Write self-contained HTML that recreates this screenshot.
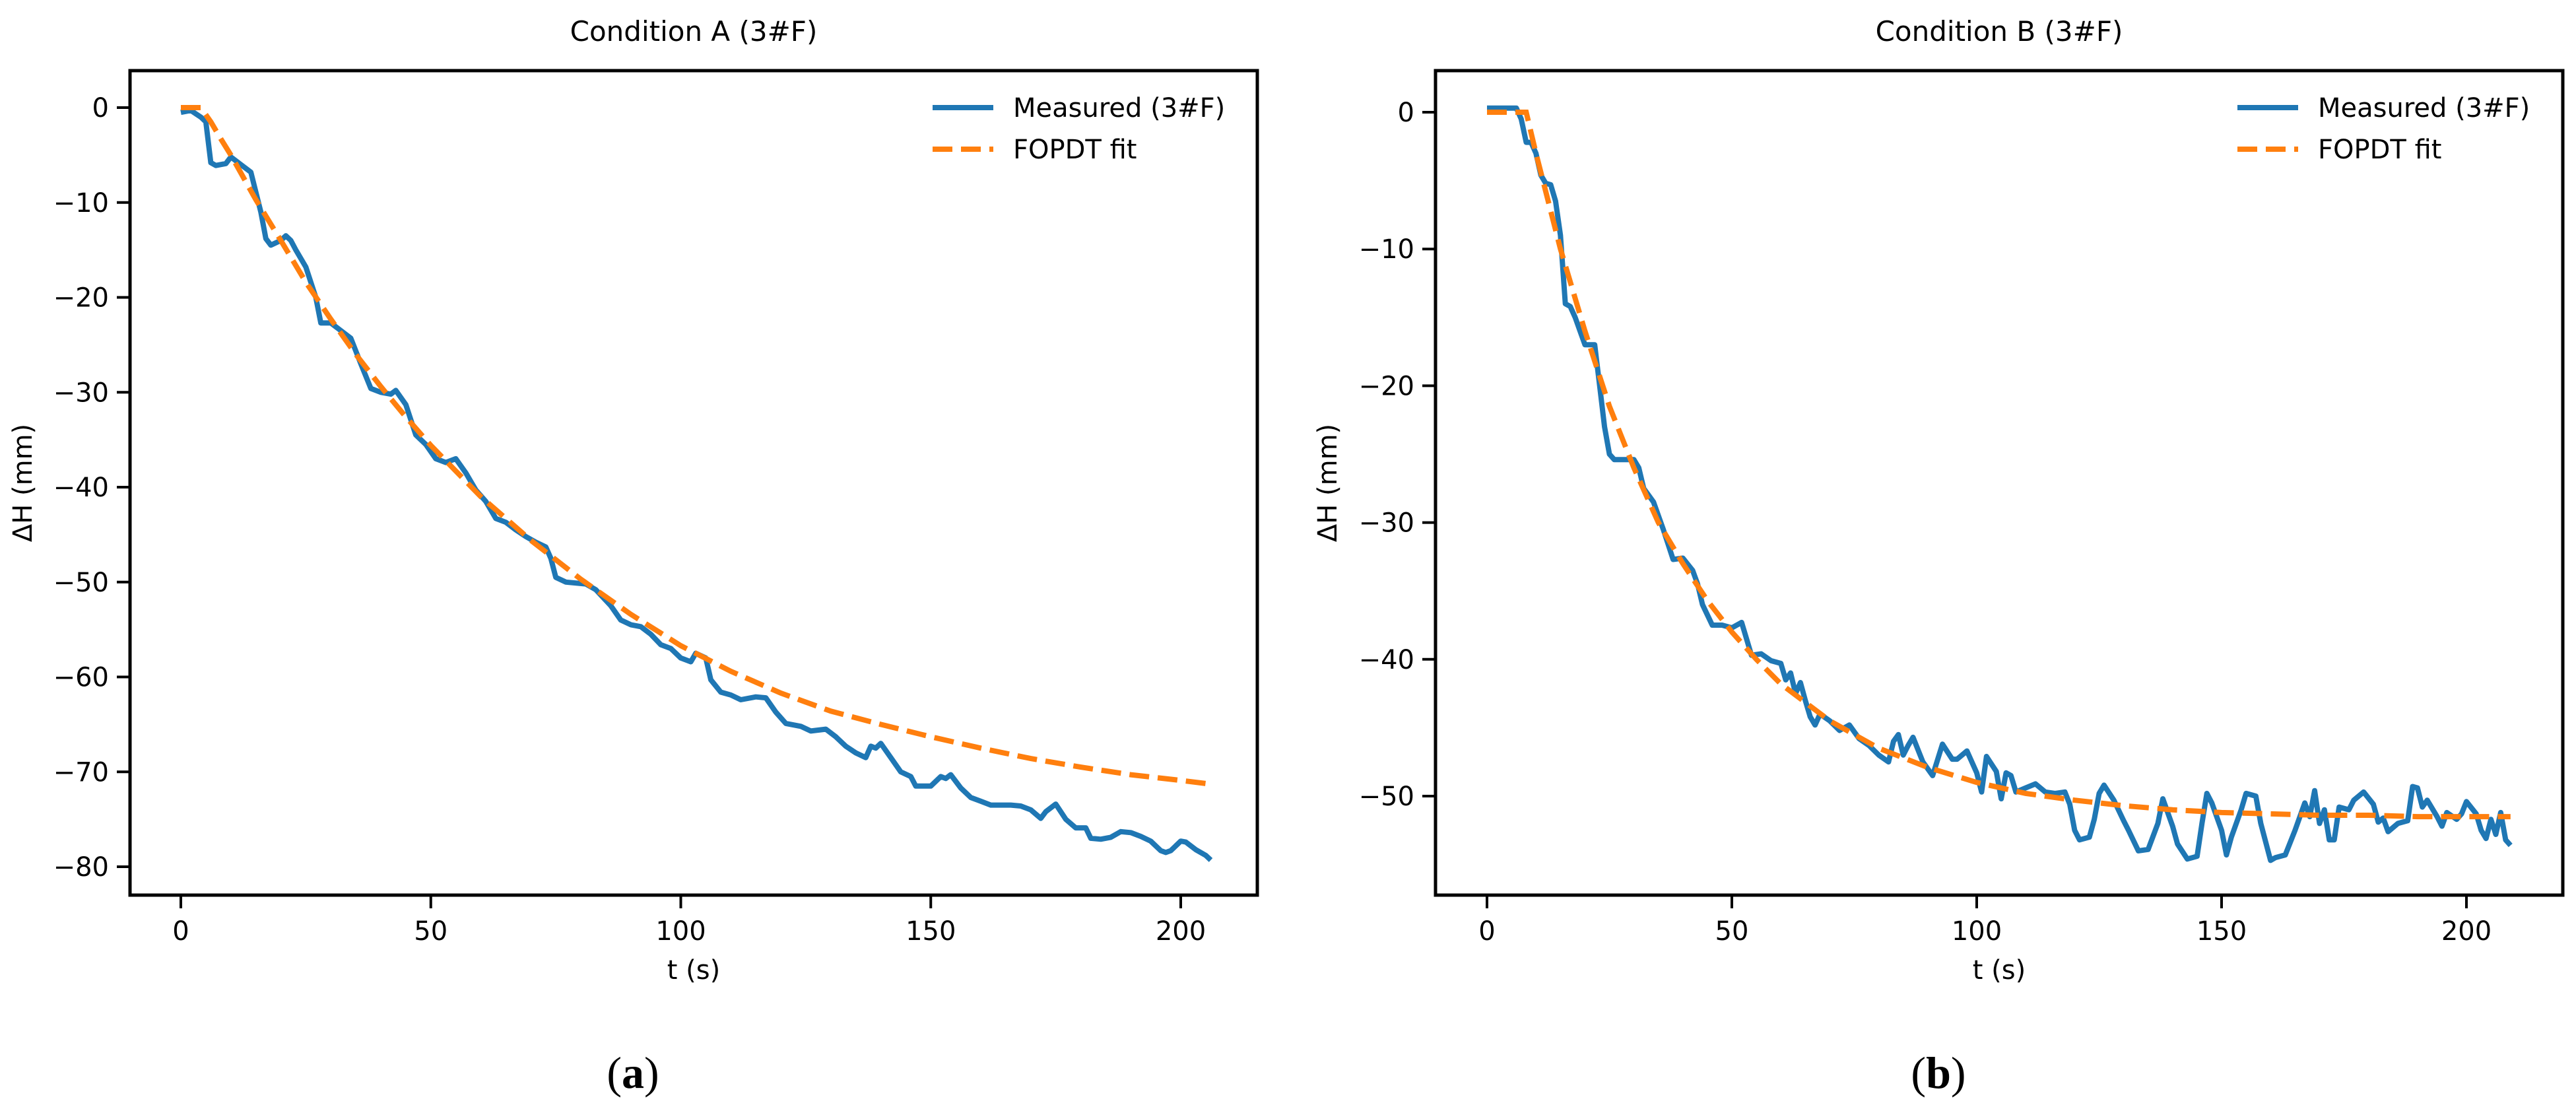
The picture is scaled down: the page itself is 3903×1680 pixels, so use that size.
<!DOCTYPE html>
<html><head><meta charset="utf-8"><style>
html,body{margin:0;padding:0;background:#fff;}
svg{display:block;font-family:"DejaVu Sans","Liberation Sans",sans-serif;}
</style></head><body>
<svg id="chart" width="3903" height="1680" viewBox="0 0 3903 1680" xmlns="http://www.w3.org/2000/svg"></svg>
<script>
const tA=[0,2,4,5,6,7,9,10,12,14,16,17,18,20,21,22,23,25,27,28,30,32,34,36,38,40,42,43,45,47,49,51,53,55,57,59,61,63,65,67,69,71,73,74,75,77,81,83,86,88,90,92,94,96,98,100,102,103,105,106,108,110,112,115,117,119,121,124,126,129,131,133,135,137,138,139,140,142,144,146,147,150,152,153,154,156,158,160,162,166,168,170,172,173,175,177,179,181,182,184,186,188,190,192,194,196,197,198,200,201,203,205,206];
const measA=[-0.5,-0.3,-1,-1.5,-5.8,-6.1,-5.9,-5.2,-6,-6.8,-11,-13.8,-14.5,-14,-13.5,-14,-15,-16.8,-20,-22.7,-22.7,-23.5,-24.3,-27,-29.6,-30,-30.2,-29.8,-31.3,-34.5,-35.5,-37,-37.4,-37,-38.5,-40.3,-41.5,-43.3,-43.7,-44.5,-45.2,-45.8,-46.3,-47.5,-49.5,-50,-50.2,-50.8,-52.5,-54,-54.5,-54.7,-55.5,-56.6,-57,-58,-58.4,-57.5,-58,-60.3,-61.6,-61.9,-62.4,-62.1,-62.2,-63.7,-64.9,-65.2,-65.7,-65.5,-66.3,-67.3,-68,-68.5,-67.3,-67.5,-67,-68.5,-70,-70.5,-71.5,-71.5,-70.5,-70.7,-70.3,-71.7,-72.7,-73.1,-73.5,-73.5,-73.6,-74,-74.9,-74.2,-73.4,-75,-75.9,-75.9,-77,-77.1,-76.9,-76.3,-76.4,-76.8,-77.3,-78.3,-78.5,-78.3,-77.3,-77.4,-78.2,-78.8,-79.3];
const fitTA=[0,4,6,8,10,15,20,25,30,35,40,45,50,60,70,80,90,100,110,120,130,140,150,160,170,180,190,200,206];
const fitA=[0,0,-1.5,-3.3,-5,-9.7,-14,-18.4,-22.3,-26,-29.4,-32.6,-35.6,-41,-45.6,-49.7,-53.4,-56.7,-59.4,-61.7,-63.6,-65.0,-66.3,-67.5,-68.6,-69.5,-70.3,-70.9,-71.3];
const tB=[0,6,7,8,9,10,11,12,13,14,15,16,17,18,19,20,21,22,23,24,25,26,28,30,31,32,34,36,38,40,42,43,44,46,48,50,52,54,56,58,60,61,62,63,64,65,66,67,68,70,72,74,76,78,80,82,83,84,85,86,87,89,91,93,95,96,98,100,101,102,104,105,106,107,108,110,112,114,116,118,119,120,121,123,124,125,126,128,130,131,133,135,137,138,140,141,143,145,146,147,148,150,151,152,154,155,157,158,160,161,163,165,167,168,169,170,171,172,173,174,176,177,179,181,182,183,184,186,188,189,190,191,192,194,195,196,198,199,200,202,203,204,205,206,207,208,209];
const measB=[0.3,0.3,-0.5,-2.2,-2.2,-3,-4.6,-5.2,-5.3,-6.5,-9,-14,-14.2,-15,-16,-17,-17,-17,-20,-23,-25,-25.4,-25.4,-25.4,-26,-27.5,-28.5,-30.5,-32.7,-32.6,-33.5,-34.5,-36,-37.5,-37.5,-37.7,-37.3,-39.7,-39.6,-40.1,-40.3,-41.5,-41,-42.5,-41.7,-43,-44.2,-44.8,-44,-44.5,-45.2,-44.8,-45.8,-46.3,-47,-47.5,-46,-45.5,-47,-46.3,-45.7,-47.5,-48.5,-46.2,-47.3,-47.3,-46.7,-48.3,-49.7,-47.1,-48.2,-50.2,-48.3,-48.5,-49.7,-49.4,-49.1,-49.7,-49.8,-49.7,-50.6,-52.5,-53.2,-53,-51.7,-49.8,-49.2,-50.3,-51.8,-52.5,-54,-53.9,-52,-50.2,-52.2,-53.5,-54.6,-54.4,-52,-49.8,-50.5,-52.5,-54.3,-53,-51,-49.8,-50,-52,-54.7,-54.5,-54.3,-52.5,-50.5,-51.5,-49.6,-52,-51,-53.2,-53.2,-50.8,-51,-50.3,-49.7,-50.6,-51.9,-51.6,-52.6,-52,-51.8,-49.3,-49.4,-50.8,-50.3,-51.5,-52.2,-51.2,-51.7,-51.3,-50.4,-51.3,-52.5,-53.1,-51.7,-52.8,-51.2,-53.2,-53.6];
const fitTB=[0,8,10,15,20,25,30,35,40,45,50,55,60,70,80,90,100,110,120,130,140,150,160,170,180,190,200,209];
const fitB=[0,0,-3,-10,-16,-21.5,-26,-30,-33,-35.7,-38,-40,-41.8,-44.5,-46.5,-47.9,-49,-49.8,-50.3,-50.7,-51,-51.2,-51.3,-51.4,-51.4,-51.5,-51.5,-51.5];
const xTicks=[0,50,100,150,200];
const yTicksA=[0,-10,-20,-30,-40,-50,-60,-70,-80];
const yTicksB=[0,-10,-20,-30,-40,-50];

const NS="http://www.w3.org/2000/svg";
const svg=document.getElementById('chart');
function mk(tag,attrs,parent){const e=document.createElementNS(NS,tag);for(const k in attrs)e.setAttribute(k,attrs[k]);(parent||svg).appendChild(e);return e;}

function panel(cfg){
  const g=mk('g',{});
  
  
  const sx=v=>cfg.x0+(v-0)*cfg.xPer;
  const sy=v=>cfg.y0-v*cfg.yPer;
  const pts=(ts,vs)=>ts.map((t,i)=>sx(t).toFixed(1)+','+sy(vs[i]).toFixed(1)).join(' ');
  const meas=mk('polyline',{points:pts(cfg.t,cfg.m),fill:'none',stroke:'#1f77b4','stroke-width':8,'stroke-linejoin':'round'},g);
  
  
  const fit=mk('polyline',{points:pts(cfg.ft,cfg.f),fill:'none',stroke:'#ff7f0e','stroke-width':8,'stroke-dasharray':'30,13'},g);
  
  
  const fr=mk('rect',{x:cfg.L,y:cfg.T,width:cfg.R-cfg.L,height:cfg.B-cfg.T,fill:'none',stroke:'#000','stroke-width':5},g);
  
  
  xTicks.forEach(v=>{
    const tk=mk('line',{x1:sx(v),x2:sx(v),y1:cfg.B,y2:cfg.B+20,stroke:'#000','stroke-width':4},g);
    
    
    const tl=mk('text',{x:sx(v),y:cfg.B+68,'text-anchor':'middle','font-size':40},g);
    tl.textContent=v;
    
    
  });
  cfg.yt.forEach(v=>{
    const tk=mk('line',{x1:cfg.L-20,x2:cfg.L,y1:sy(v),y2:sy(v),stroke:'#000','stroke-width':4},g);
    
    
    const tl=mk('text',{x:cfg.L-32,y:sy(v)+14,'text-anchor':'end','font-size':40},g);
    tl.textContent=v===0?'0':'\u2212'+Math.abs(v);
    
    
  });
  const ti=mk('text',{x:(cfg.L+cfg.R)/2,y:62,'text-anchor':'middle','font-size':42},g);
  ti.textContent=cfg.title;
  
  
  const xl=mk('text',{x:(cfg.L+cfg.R)/2,y:1483,'text-anchor':'middle','font-size':40},g);
  xl.textContent='t (s)';
  
  
  const yl=mk('text',{x:0,y:0,'text-anchor':'middle','font-size':40,transform:`translate(${cfg.ylx},${(cfg.T+cfg.B)/2}) rotate(-90)`},g);
  yl.textContent='\u0394H (mm)';
  
  
  const le1=mk('line',{x1:cfg.lx,x2:cfg.lx+92,y1:163,y2:163,stroke:'#1f77b4','stroke-width':8},g);
  
  
  const lt1=mk('text',{x:cfg.lx+122,y:177,'font-size':40},g);
  lt1.textContent='Measured (3#F)';
  
  
  const le2=mk('line',{x1:cfg.lx,x2:cfg.lx+92,y1:226,y2:226,stroke:'#ff7f0e','stroke-width':8,'stroke-dasharray':'30,13'},g);
  
  
  const lt2=mk('text',{x:cfg.lx+122,y:240,'font-size':40},g);
  lt2.textContent='FOPDT fit';
  
  
  const sl=mk('text',{x:cfg.sub,y:1648,'text-anchor':'middle','font-size':68,'font-family':'"Liberation Serif",serif'},g);
  sl.innerHTML='(<tspan font-weight="bold">'+cfg.letter+'</tspan>)';
  
  
}
panel({name:'panel-a',title:'Condition A (3#F)',L:197,R:1905,T:107,B:1356,x0:274,xPer:(1789-274)/200,y0:163,yPer:14.375,t:tA,m:measA,ft:fitTA,f:fitA,yt:yTicksA,ylx:48,lx:1413,sub:959,letter:'a'});
panel({name:'panel-b',title:'Condition B (3#F)',L:2175,R:3883,T:107,B:1356,x0:2253,xPer:(3737-2253)/200,y0:170,yPer:20.72,t:tB,m:measB,ft:fitTB,f:fitB,yt:yTicksB,ylx:2025,lx:3390,sub:2937,letter:'b'});
</script>
</body></html>
